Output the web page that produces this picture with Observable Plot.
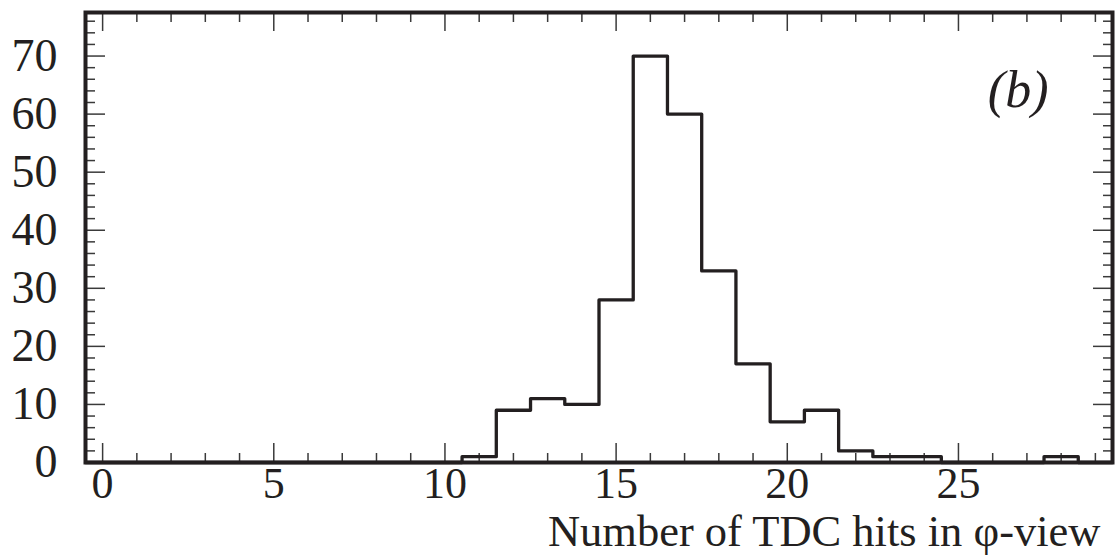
<!DOCTYPE html>
<html>
<head>
<meta charset="utf-8">
<script src="https://cdn.jsdelivr.net/npm/d3@7"></script>
<script src="https://cdn.jsdelivr.net/npm/@observablehq/plot@0.6"></script>
<style>
  html, body { margin: 0; padding: 0; background: #fff; }
  #chart svg { display: block; }
</style>
</head>
<body>
<div id="chart"></div>
<script>
// Histogram bins (bin centre = number of TDC hits), counts
const binCenters = [0,1,2,3,4,5,6,7,8,9,10,11,12,13,14,15,16,17,18,19,20,21,22,23,24,25,26,27,28,29];
const counts     = [0,0,0,0,0,0,0,0,0,0,0,1,9,11,10,28,70,60,33,17,7,9,2,1,1,0,0,0,1,0];

// Axis ticks
const xMajorTicks = [0,5,10,15,20,25];
const xMinorTicks = [1,2,3,4,6,7,8,9,11,12,13,14,16,17,18,19,21,22,23,24,26,27,28,29];
const yMajorTicks = [0,10,20,30,40,50,60,70];
const yMinorTicks = [2,4,6,8,12,14,16,18,22,24,26,28,32,34,36,38,42,44,46,48,52,54,56,58,62,64,66,68,72,74,76];

const xLabel = "Number of TDC hits in \u03C6-view";
const panelLabel = "(b)";

// Step outline points at bin edges
const stepPts = binCenters.map((c, i) => ({x: c - 0.5, y: counts[i]}));
stepPts.push({x: binCenters[binCenters.length - 1] + 0.5, y: 0});

const ink = "#231f20";
const tickInk = "#3a3a3a";
const serif = "'Liberation Serif', 'Times New Roman', Times, serif";

const tickOpts = {tickFormat: () => "", label: null, stroke: tickInk, strokeWidth: 1.5};

const chart = Plot.plot({
  width: 1119,
  height: 555,
  marginLeft: 85,
  marginRight: 7,
  marginTop: 12,
  marginBottom: 93,
  style: {fontFamily: serif, background: "#fff", color: ink},
  x: {domain: [-0.5, 29.5], axis: null},
  y: {domain: [0, 77.5], axis: null},
  marks: [
    // inward ticks: bottom/top x, left/right y
    Plot.axisX(xMajorTicks, {anchor: "bottom", tickSize: -19, ...tickOpts}),
    Plot.axisX(xMinorTicks, {anchor: "bottom", tickSize: -9, ...tickOpts}),
    Plot.axisX(xMajorTicks, {anchor: "top", tickSize: -18, ...tickOpts}),
    Plot.axisX(xMinorTicks, {anchor: "top", tickSize: -9, ...tickOpts}),
    Plot.axisY(yMajorTicks, {anchor: "left", tickSize: -20, ...tickOpts}),
    Plot.axisY(yMinorTicks, {anchor: "left", tickSize: -10, ...tickOpts}),
    Plot.axisY(yMajorTicks, {anchor: "right", tickSize: -20, ...tickOpts}),
    Plot.axisY(yMinorTicks, {anchor: "right", tickSize: -10, ...tickOpts}),
    // tick labels
    Plot.axisX(xMajorTicks, {anchor: "bottom", tickSize: 0, tickPadding: 4, fontSize: 44, fill: ink, label: null}),
    Plot.axisY(yMajorTicks, {anchor: "left", tickSize: 0, tickPadding: 28, fontSize: 46, fill: ink, label: null}),
    // histogram outline
    Plot.line(stepPts, {x: "x", y: "y", curve: "step-after", stroke: ink, strokeWidth: 3.3}),
    Plot.frame({stroke: ink, strokeWidth: 4}),
    Plot.text([xLabel], {frameAnchor: "bottom-right", dx: -12, dy: 83, lineAnchor: "bottom", textAnchor: "end", fontSize: 44.5, fill: ink}),
    Plot.text([panelLabel], {frameAnchor: "top-right", dx: -64, dy: 78, lineAnchor: "middle", textAnchor: "end", fontSize: 52, fontStyle: "italic", fill: ink})
  ]
});
document.getElementById("chart").appendChild(chart);
</script>
</body>
</html>
